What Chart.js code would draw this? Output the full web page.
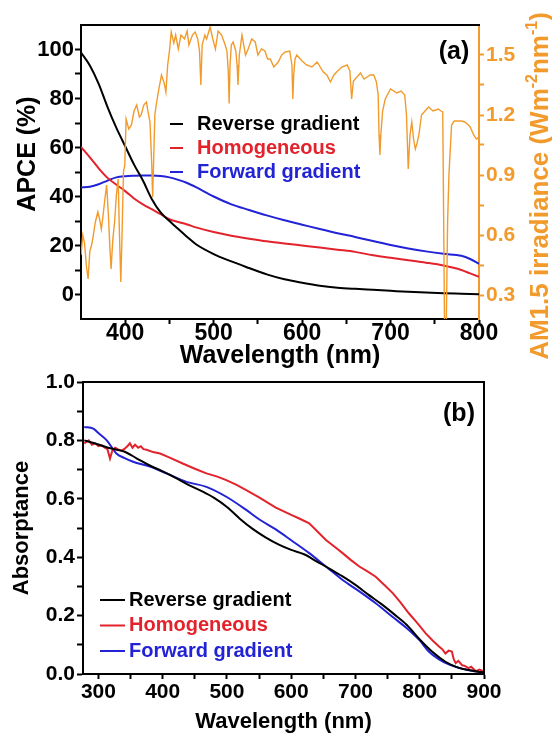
<!DOCTYPE html>
<html>
<head>
<meta charset="utf-8">
<script src="https://cdn.jsdelivr.net/npm/chart.js@4.4.1/dist/chart.umd.min.js"></script>
<style>
  body { margin: 0; background: #fff; width: 552px; height: 738px; position: relative; overflow: hidden; }
  #apceChart { position: absolute; left: 0; top: 0; }
  #absChart { position: absolute; left: 0; top: 366px; }
</style>
</head>
<body>
<canvas id="apceChart" width="552" height="374"></canvas>
<canvas id="absChart" width="552" height="372"></canvas>
<script>
// ---- panel (a): APCE curves ----
var apceWl = [350,360,370,380,390,400,410,420,430,440,450,460,470,480,500,520,540,560,580,600,620,640,660,680,700,720,740,760,780,790,800];
var reverseApce = [98.8,93.5,86,76.5,68,60.5,53,46.5,39,33.5,30,26.7,23.5,20.5,16.5,13.5,10.8,8.2,6.2,4.8,3.6,2.8,2.3,1.9,1.5,1.1,0.8,0.5,0.3,0.2,0.1];
var homoApce = [60.2,56,51.5,47.6,44.8,42.2,39.2,36.8,34.8,32.8,30.7,29.6,28.6,27.4,25.5,24,22.8,21.7,20.8,20,19.2,18.3,17.4,16,15,14,13,11.8,10,8.6,7.2];
var forwardApce = [43.7,44,45,46.5,47.8,48.3,48.5,48.6,48.6,48.4,47.8,46.8,45.5,43.8,40,36.8,34.5,32.3,30.3,28.5,26.7,25,23.5,21.8,20.2,18.8,17.6,16.6,15.8,14.5,12.5];

// AM1.5 irradiance (right axis)
var amWl = [
  350,352,354,356,358,360,362,364,366,369,
  371,373,375,377,379,381,382.5,384,386,388,
  390,392,393.5,395,396.5,398,399.5,401,404,407,
  410,413,416,418,421,424,426,428,430,431,
  432,433.5,435,438,441,444,446,448,450,452,
  455,457,460,463,467,470,472,476,479,482,
  484,485.5,487,490,492,496,499,502,505,509,
  513,515,516.5,517.5,518.5,520,522,525,526.5,527.5,
  529,532,536,539,543,547,550,554,558,561,
  564,568,573,577,581,586,588.5,589.5,590.5,592,
  594,600,605,611,617,624,628,632,636,639,
  645,651,654,656,658,660,666,670,677,681,
  684,686,687,688,689,691,694,700,707,712,
  716,718,720,722,724,726,728,730,732,735,
  739,743,748,754,757,759,760,761,763,764.5,
  766,769,772,775,780,784,788,790,794,797,
  800];
var amIrr = [
  0.50,0.60,0.56,0.45,0.38,0.52,0.55,0.60,0.66,0.715,
  0.68,0.63,0.70,0.78,0.85,0.70,0.55,0.43,0.58,0.665,
  0.80,0.88,0.60,0.365,0.62,0.915,0.95,1.18,1.13,1.15,
  1.22,1.25,1.19,1.20,1.25,1.265,1.21,1.165,0.95,0.79,
  0.95,1.20,1.25,1.33,1.40,1.36,1.315,1.45,1.52,1.615,
  1.56,1.60,1.53,1.60,1.58,1.62,1.55,1.60,1.615,1.58,
  1.52,1.35,1.55,1.60,1.58,1.64,1.58,1.53,1.62,1.60,
  1.55,1.52,1.42,1.257,1.45,1.55,1.565,1.52,1.45,1.35,
  1.50,1.60,1.50,1.53,1.58,1.565,1.50,1.53,1.52,1.48,
  1.48,1.44,1.465,1.50,1.515,1.52,1.45,1.28,1.40,1.48,
  1.50,1.47,1.45,1.44,1.465,1.415,1.40,1.365,1.40,1.415,
  1.44,1.45,1.42,1.28,1.37,1.38,1.41,1.38,1.40,1.40,
  1.365,1.30,1.10,1.00,1.10,1.22,1.28,1.33,1.31,1.32,
  1.30,1.20,0.93,1.10,1.165,1.08,1.03,1.06,1.10,1.20,
  1.22,1.24,1.22,1.23,1.22,1.215,0.70,0.15,0.15,0.665,
  0.90,1.15,1.17,1.17,1.17,1.165,1.15,1.14,1.10,1.08,
  1.09];

var apceXTicks = [400,500,600,700,800];
var apceXLabels = ['400','500','600','700','800'];
var apceXMinor = [450,550,650,750];
var apceYTicks = [0,20,40,60,80,100];
var apceYLabels = ['0','20','40','60','80','100'];
var apceYMinor = [10,30,50,70,90];
var irrTicks = [0.3,0.6,0.9,1.2,1.5];
var irrLabels = ['0.3','0.6','0.9','1.2','1.5'];
var irrMinor = [0.45,0.75,1.05,1.35];

// ---- panel (b): absorptance ----
var absWlRev = [278,300,320,340,360,380,400,420,440,460,480,500,520,540,560,580,600,620,640,660,680,700,720,740,760,780,800,820,840,860,880,900];
var reverseAbs = [0.80,0.786,0.772,0.762,0.738,0.714,0.694,0.672,0.648,0.627,0.603,0.572,0.532,0.497,0.468,0.444,0.425,0.41,0.385,0.36,0.334,0.305,0.272,0.24,0.205,0.168,0.118,0.075,0.042,0.022,0.012,0.005];
var absWlHomo = [278,285,290,295,300,305,310,314,318,322,326,330,335,340,345,349,353,357,362,366,370,375,385,396,410,432,450,468,485,499,515,530,550,576,600,615,628,640,654,668,680,693,706,718,731,745,758,770,783,796,809,820,830,835,840,845,850,853,856,860,866,870,876,880,887,893,900];
var homoAbs = [0.79,0.80,0.785,0.79,0.78,0.783,0.775,0.77,0.738,0.768,0.775,0.77,0.765,0.77,0.78,0.79,0.775,0.785,0.775,0.78,0.77,0.768,0.76,0.755,0.742,0.72,0.703,0.687,0.676,0.664,0.648,0.63,0.605,0.57,0.545,0.53,0.516,0.49,0.459,0.435,0.414,0.39,0.368,0.352,0.334,0.305,0.277,0.245,0.208,0.175,0.14,0.115,0.094,0.085,0.07,0.08,0.077,0.05,0.037,0.045,0.03,0.028,0.02,0.025,0.01,0.015,0.008];
var absWlFwd = [278,292,300,313,328,340,354,380,406,437,468,499,530,550,576,600,628,654,680,706,731,757,783,800,814,830,846,866,887,900];
var forwardAbs = [0.846,0.84,0.825,0.80,0.755,0.74,0.727,0.71,0.687,0.658,0.641,0.607,0.562,0.53,0.495,0.458,0.414,0.368,0.322,0.283,0.243,0.197,0.151,0.115,0.077,0.05,0.032,0.018,0.009,0.005];

var absXTicks = [300,400,500,600,700,800,900];
var absXLabels = ['300','400','500','600','700','800','900'];
var absXMinor = [350,450,550,650,750,850];
var absYTicks = [0,0.2,0.4,0.6,0.8,1.0];
var absYLabels = ['0.0','0.2','0.4','0.6','0.8','1.0'];
var absYMinor = [0.1,0.3,0.5,0.7,0.9];

var FONT = "'Liberation Sans', Arial, sans-serif";
var ORANGE = '#f29b2c';
var RED = '#e3232c';
var BLUE = '#2222d6';

Chart.defaults.font.family = FONT;
Chart.defaults.font.weight = 'bold';
Chart.defaults.color = '#000';

function pts(xs, ys) {
  return xs.map(function (x, i) { return { x: x, y: ys[i] }; });
}

// put our own tick values on a scale (major + minor)
function tickSet(major, minor) {
  return function (scale) {
    scale.ticks = major.concat(minor).sort(function (a, b) { return a - b; })
      .map(function (v) { return { value: v }; });
  };
}
function tickLabel(major, labels) {
  return function (value) {
    var i = major.indexOf(value);
    return i >= 0 ? labels[i] : '';
  };
}
function fixWidth(w) { return function (s) { s.width = w; }; }
function fixHeight(h) { return function (s) { s.height = h; }; }

// frame, panel tag, in-plot legend and rotated titles
var panelDecor = {
  id: 'panelDecor',
  afterDraw: function (chart, args, o) {
    var ctx = chart.ctx, a = chart.chartArea;
    ctx.save();
    ctx.strokeStyle = '#000';
    ctx.lineWidth = 2;
    ctx.beginPath();
    ctx.moveTo(a.left - 1, a.top);
    ctx.lineTo(a.right + (o.rightFrame ? 0 : 1), a.top);
    if (o.rightFrame) ctx.lineTo(a.right, a.bottom + 1);
    ctx.stroke();

    ctx.fillStyle = '#000';
    ctx.font = 'bold ' + o.tag.size + 'px ' + FONT;
    ctx.textAlign = 'center';
    ctx.textBaseline = 'middle';
    ctx.fillText(o.tag.text, o.tag.x, o.tag.y);

    var L = o.legend;
    ctx.font = 'bold ' + L.size + 'px ' + FONT;
    ctx.textAlign = 'left';
    L.items.forEach(function (di, i) {
      var ds = chart.data.datasets[di], y = L.y + i * L.dy;
      ctx.strokeStyle = ds.borderColor;
      ctx.lineWidth = 2;
      ctx.beginPath();
      ctx.moveTo(L.x, y);
      ctx.lineTo(L.x + L.len, y);
      ctx.stroke();
      ctx.fillStyle = ds.borderColor;
      ctx.fillText(ds.label, L.x + L.len + L.gap, y);
    });

    (o.sideTitles || []).forEach(function (t) {
      ctx.save();
      ctx.translate(t.x, t.y);
      ctx.rotate(-Math.PI / 2);
      ctx.fillStyle = t.color;
      ctx.textBaseline = 'middle';
      ctx.textAlign = 'left';
      var supSize = Math.round(t.size * 0.6);
      var widths = t.parts.map(function (p) {
        ctx.font = 'bold ' + (p.sup ? supSize : t.size) + 'px ' + FONT;
        return ctx.measureText(p.t).width;
      });
      var x = -widths.reduce(function (s, w) { return s + w; }, 0) / 2;
      t.parts.forEach(function (p, i) {
        ctx.font = 'bold ' + (p.sup ? supSize : t.size) + 'px ' + FONT;
        ctx.fillText(p.t, x, p.sup ? -t.size * 0.32 : 0);
        x += widths[i];
      });
      ctx.restore();
    });
    ctx.restore();
  }
};

function lineSet(label, color, data, extra) {
  var d = {
    label: label, data: data, borderColor: color, backgroundColor: color,
    borderWidth: 2, pointRadius: 0, fill: false, cubicInterpolationMode: 'monotone'
  };
  for (var k in extra) d[k] = extra[k];
  return d;
}

new Chart(document.getElementById('apceChart'), {
  type: 'line',
  data: {
    datasets: [
      lineSet('AM1.5', ORANGE, pts(amWl, amIrr), { yAxisID: 'yR', borderWidth: 1.4, cubicInterpolationMode: 'default', tension: 0 }),
      lineSet('Reverse gradient', '#000', pts(apceWl, reverseApce), { yAxisID: 'y' }),
      lineSet('Homogeneous', RED, pts(apceWl, homoApce), { yAxisID: 'y' }),
      lineSet('Forward gradient', BLUE, pts(apceWl, forwardApce), { yAxisID: 'y' })
    ]
  },
  options: {
    responsive: false,
    animation: false,
    devicePixelRatio: 1,
    layout: { padding: { top: 25, left: 0, right: 0, bottom: 0 } },
    plugins: {
      legend: { display: false },
      tooltip: { enabled: false },
      panelDecor: {
        rightFrame: false,
        tag: { text: '(a)', x: 454, y: 52, size: 25 },
        legend: { items: [1, 2, 3], x: 170, y: 124, dy: 24, len: 13, gap: 14, size: 20 },
        sideTitles: [
          { x: 28, y: 154, size: 25, color: '#000', parts: [{ t: 'APCE (%)' }] },
          { x: 541, y: 186, size: 26, color: ORANGE, parts: [
            { t: 'AM1.5 irradiance (Wm' }, { t: '-2', sup: true }, { t: 'nm' }, { t: '-1', sup: true }, { t: ')' }
          ] }
        ]
      }
    },
    scales: {
      x: {
        type: 'linear', min: 350, max: 800,
        afterBuildTicks: tickSet(apceXTicks, apceXMinor),
        afterFit: fixHeight(55),
        ticks: { autoSkip: false, maxRotation: 0, padding: -4, font: { size: 23, weight: 'bold' }, color: '#000', callback: tickLabel(apceXTicks, apceXLabels) },
        grid: { drawOnChartArea: false, color: '#000', tickLength: 5, tickWidth: 2 },
        border: { color: '#000', width: 2 },
        title: { display: true, text: 'Wavelength (nm)', color: '#000', font: { size: 25, weight: 'bold', lineHeight: 1 }, padding: { top: 0, bottom: 5 } }
      },
      y: {
        position: 'left', min: -10, max: 110,
        afterBuildTicks: tickSet(apceYTicks, apceYMinor),
        afterFit: fixWidth(81),
        ticks: { autoSkip: false, padding: 1, font: { size: 22, weight: 'bold' }, color: '#000', callback: tickLabel(apceYTicks, apceYLabels) },
        grid: { drawOnChartArea: false, color: '#000', tickLength: 6, tickWidth: 2 },
        border: { color: '#000', width: 2 }
      },
      yR: {
        position: 'right', min: 0.18, max: 1.65,
        afterBuildTicks: tickSet(irrTicks, irrMinor),
        afterFit: fixWidth(73),
        ticks: { autoSkip: false, padding: 2, font: { size: 21, weight: 'bold' }, color: ORANGE, callback: tickLabel(irrTicks, irrLabels) },
        grid: { drawOnChartArea: false, color: ORANGE, tickLength: 5, tickWidth: 2 },
        border: { color: ORANGE, width: 2 }
      }
    }
  },
  plugins: [panelDecor]
});

new Chart(document.getElementById('absChart'), {
  type: 'line',
  data: {
    datasets: [
      lineSet('Reverse gradient', '#000', pts(absWlRev, reverseAbs)),
      lineSet('Homogeneous', RED, pts(absWlHomo, homoAbs), { cubicInterpolationMode: 'default', tension: 0 }),
      lineSet('Forward gradient', BLUE, pts(absWlFwd, forwardAbs))
    ]
  },
  options: {
    responsive: false,
    animation: false,
    devicePixelRatio: 1,
    layout: { padding: { top: 16, left: 0, right: 68, bottom: 0 } },
    plugins: {
      legend: { display: false },
      tooltip: { enabled: false },
      panelDecor: {
        rightFrame: true,
        tag: { text: '(b)', x: 459, y: 48, size: 25 },
        legend: { items: [0, 1, 2], x: 100, y: 234, dy: 25.5, len: 25, gap: 4, size: 20 }
      }
    },
    scales: {
      x: {
        type: 'linear', min: 276, max: 900,
        afterBuildTicks: tickSet(absXTicks, absXMinor),
        afterFit: fixHeight(64),
        ticks: { autoSkip: false, maxRotation: 0, padding: 1, font: { size: 21, weight: 'bold' }, color: '#000', callback: tickLabel(absXTicks, absXLabels) },
        grid: { drawOnChartArea: false, color: '#000', tickLength: 5, tickWidth: 2 },
        border: { color: '#000', width: 2 },
        title: { display: true, text: 'Wavelength (nm)', color: '#000', font: { size: 22, weight: 'bold', lineHeight: 1.2 }, padding: { top: 0, bottom: 3 } }
      },
      y: {
        position: 'left', min: 0, max: 1,
        afterBuildTicks: tickSet(absYTicks, absYMinor),
        afterFit: fixWidth(83),
        ticks: { autoSkip: false, padding: 2, font: { size: 21, weight: 'bold' }, color: '#000', callback: tickLabel(absYTicks, absYLabels) },
        grid: { drawOnChartArea: false, color: '#000', tickLength: 6, tickWidth: 2 },
        border: { color: '#000', width: 2 },
        title: { display: true, text: 'Absorptance', color: '#000', font: { size: 22, weight: 'bold', lineHeight: 1.2 }, padding: { top: 9, bottom: 0 } }
      }
    }
  },
  plugins: [panelDecor]
});
</script>
</body>
</html>
